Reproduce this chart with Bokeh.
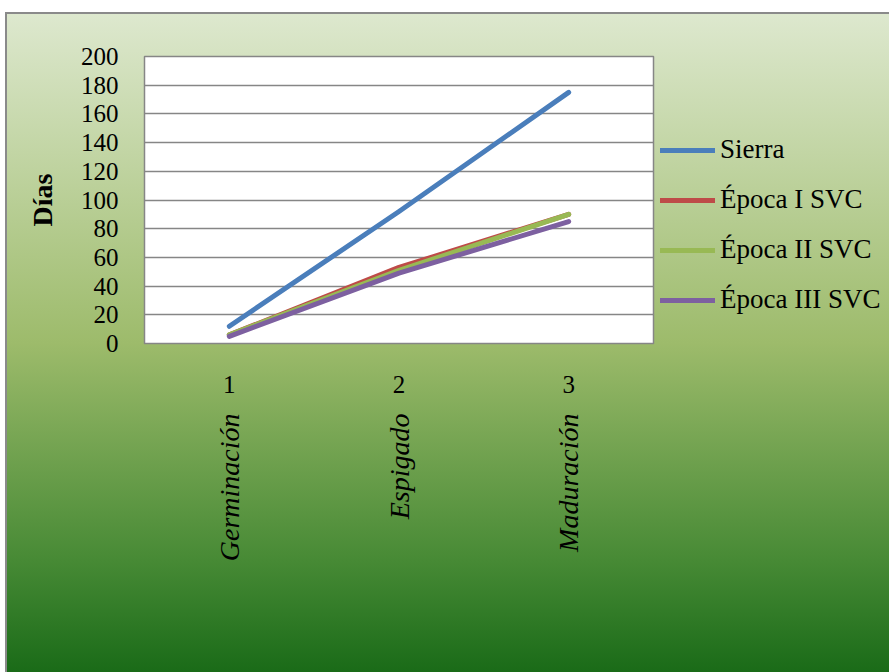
import math

from bokeh.plotting import figure
from bokeh.models import LinearAxis, FixedTicker, Range1d, Legend, LegendItem
from bokeh.embed import file_html
from bokeh.resources import INLINE

# Growth stages and days for each sowing period
stage_numbers = [1, 2, 3]
stage_names = ["Germinación", "Espigado", "Maduración"]

sierra = [12, 92, 175]
epoca_1 = [6, 53, 90]
epoca_2 = [6, 51, 90]
epoca_3 = [5, 49, 85]

series_names = ["Sierra", "Época I SVC", "Época II SVC", "Época III SVC"]
series_values = [sierra, epoca_1, epoca_2, epoca_3]
series_colors = ["#4a7ebb", "#be4b48", "#98b954", "#7d60a0"]

y_ticks = list(range(0, 201, 20))

FONT = "Liberation Serif"

p = figure(
    frame_width=509, frame_height=287,
    x_range=Range1d(0.5, 3.5), y_range=Range1d(0, 200),
    output_backend="svg", toolbar_location=None,
    min_border_left=144, min_border_top=56,
    min_border_right=236, min_border_bottom=329,
)

# panel background: white page, grey frame edge, green vertical gradient
p.border_fill_color = None
p.border_fill_alpha = 0
p.styles = {
    "background-color": "white",
    "background-image": (
        "linear-gradient(#8a8a8a, #8a8a8a), "
        "linear-gradient(#8a8a8a, #8a8a8a), "
        "linear-gradient(to bottom, #dde8ce 0%, #9dbb6b 50%, #478a35 83%, #1a6b18 100%)"
    ),
    "background-size": "2px 660px, 884px 2px, 882px 658px",
    "background-position": "5px 12px, 5px 12px, 7px 14px",
    "background-repeat": "no-repeat",
}

p.background_fill_color = "white"
p.outline_line_color = "#868686"
p.outline_line_width = 1.5

p.xgrid.grid_line_color = None
p.ygrid.grid_line_color = "#868686"
p.ygrid.grid_line_width = 1.5
p.ygrid.ticker = FixedTicker(ticks=y_ticks)

# y axis
ya = p.yaxis[0]
ya.ticker = FixedTicker(ticks=y_ticks)
ya.axis_line_color = None
ya.major_tick_out = 0
ya.major_tick_in = 0
ya.minor_tick_out = 0
ya.minor_tick_in = 0
ya.major_label_standoff = 26
ya.major_label_text_font = FONT
ya.major_label_text_font_size = "25px"
ya.major_label_text_color = "black"
ya.axis_label = "Días"
ya.axis_label_text_font = FONT
ya.axis_label_text_font_size = "28px"
ya.axis_label_text_font_style = "bold"
ya.axis_label_text_color = "black"
ya.axis_label_standoff = 20

# x axis: stage numbers
xa = p.xaxis[0]
xa.ticker = FixedTicker(ticks=stage_numbers)
xa.axis_line_color = None
xa.major_tick_out = 0
xa.major_tick_in = 0
xa.minor_tick_out = 0
xa.minor_tick_in = 0
xa.major_label_standoff = 32
xa.major_label_text_font = FONT
xa.major_label_text_font_size = "25px"
xa.major_label_text_color = "black"

# second x axis: stage names, reading bottom to top
xa2 = LinearAxis(
    ticker=FixedTicker(ticks=stage_numbers),
    major_label_overrides={n: s for n, s in zip(stage_numbers, stage_names)},
    major_label_orientation=math.pi / 2,
    axis_line_color=None,
    major_tick_out=0, major_tick_in=0,
    minor_tick_out=0, minor_tick_in=0,
    major_label_standoff=18,
    major_label_text_font=FONT,
    major_label_text_font_size="28px",
    major_label_text_font_style="italic",
    major_label_text_color="black",
)
p.add_layout(xa2, "below")

items = []
for name, vals, color in zip(series_names, series_values, series_colors):
    r = p.line(stage_numbers, vals, line_color=color, line_width=5,
               line_cap="round", line_join="round")
    items.append(LegendItem(label=name, renderers=[r]))

lg = Legend(items=items, location=(7, 28))
lg.margin = 0
lg.padding = 0
lg.border_line_color = None
lg.background_fill_alpha = 0
lg.glyph_width = 55
lg.glyph_height = 30
lg.label_height = 30
lg.spacing = 19
lg.label_standoff = 5
lg.label_text_font = FONT
lg.label_text_font_size = "27px"
lg.label_text_color = "black"
p.add_layout(lg, "right")

open("out.html", "w").write(file_html(p, INLINE))
